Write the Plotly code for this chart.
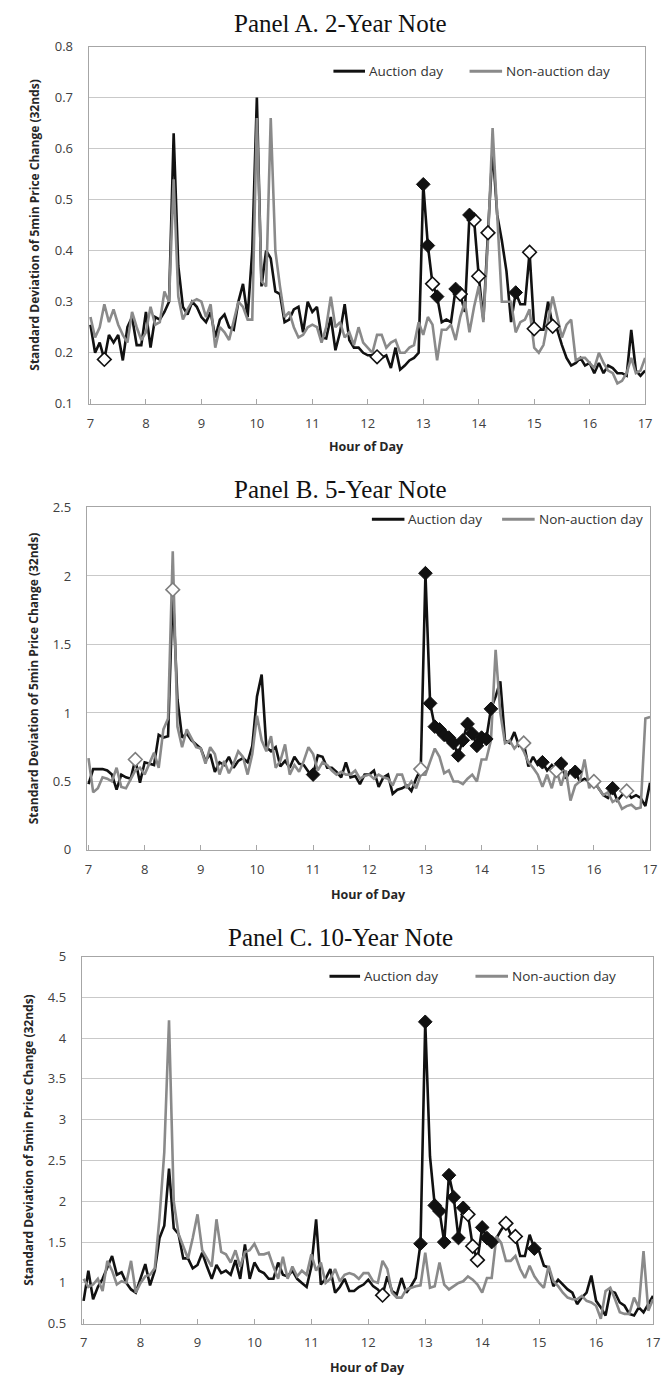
import numpy as np
import plotly.graph_objects as go

# ---- data: std. dev. of 5-minute price changes (32nds), 7:00-17:00 ----
hours = 7 + np.arange(121) / 12.0
hour_ticks = list(range(7, 18))
hour_labels = [str(h) for h in hour_ticks]

two_auction = (
    [0.255, 0.20, 0.22, 0.187, 0.235, 0.22, 0.235, 0.185, 0.25, 0.27, 0.215, 0.215,
     0.28, 0.21, 0.27, 0.265, 0.28, 0.30, 0.63,
     0.37, 0.29, 0.275, 0.30, 0.29, 0.27, 0.26, 0.28, 0.23, 0.265, 0.275, 0.25,
     0.245, 0.30, 0.335, 0.27, 0.40, 0.70,
     0.33, 0.40, 0.385, 0.32, 0.315, 0.26, 0.265, 0.285, 0.29, 0.24, 0.30, 0.28,
     0.29, 0.23, 0.228, 0.27, 0.205, 0.24, 0.295, 0.225, 0.21, 0.21, 0.20]
    + [0.195, 0.195, 0.192, 0.19, 0.195, 0.17, 0.21, 0.167, 0.175, 0.185, 0.19, 0.20]
    + [0.53, 0.41, 0.335, 0.31, 0.26, 0.265, 0.26, 0.325, 0.315, 0.28, 0.47, 0.46]
    + [0.35, 0.265, 0.435, 0.60, 0.47, 0.42, 0.36, 0.26, 0.318, 0.295, 0.295, 0.397]
    + [0.247, 0.245, 0.245, 0.30, 0.252, 0.245, 0.215, 0.19, 0.175, 0.18, 0.19, 0.175]
    + [0.18, 0.16, 0.18, 0.16, 0.175, 0.17, 0.16, 0.16, 0.155, 0.245, 0.165, 0.155, 0.165]
)
two_non = (
    [0.27, 0.23, 0.25, 0.295, 0.26, 0.285, 0.255, 0.235, 0.22, 0.28, 0.25, 0.225,
     0.24, 0.29, 0.255, 0.26, 0.32, 0.30, 0.54,
     0.31, 0.265, 0.285, 0.30, 0.305, 0.30, 0.27, 0.295, 0.21, 0.25, 0.24, 0.225,
     0.26, 0.30, 0.29, 0.265, 0.265, 0.66,
     0.34, 0.33, 0.66, 0.40, 0.33, 0.27, 0.28, 0.25, 0.23, 0.235, 0.25, 0.255,
     0.25, 0.22, 0.25, 0.31, 0.25, 0.26, 0.23, 0.24, 0.215, 0.25, 0.22]
    + [0.21, 0.20, 0.235, 0.235, 0.21, 0.22, 0.225, 0.20, 0.20, 0.21, 0.215, 0.26]
    + [0.235, 0.27, 0.255, 0.185, 0.245, 0.245, 0.255, 0.225, 0.27, 0.30, 0.24, 0.29]
    + [0.33, 0.26, 0.42, 0.64, 0.47, 0.30, 0.30, 0.30, 0.24, 0.26, 0.265, 0.285]
    + [0.21, 0.20, 0.215, 0.26, 0.31, 0.27, 0.23, 0.255, 0.265, 0.185, 0.19, 0.19]
    + [0.18, 0.17, 0.20, 0.18, 0.165, 0.16, 0.14, 0.145, 0.16, 0.19, 0.16, 0.165, 0.19]
)
two_sig_up = [72, 73, 75, 79, 82, 92]
two_sig_down = [3, 62, 74, 80, 83, 84, 86, 95, 96, 100]

five_auction = (
    [0.48, 0.59, 0.59, 0.59, 0.58, 0.55, 0.44, 0.55, 0.53, 0.52, 0.66, 0.49,
     0.64, 0.63, 0.62, 0.84, 0.82, 0.83, 1.90,
     1.10, 0.82, 0.85, 0.80, 0.77, 0.74, 0.65, 0.70, 0.57, 0.64, 0.62, 0.68,
     0.60, 0.65, 0.67, 0.64, 0.76, 1.12, 1.28,
     0.75, 0.72, 0.75, 0.61, 0.65, 0.60, 0.68, 0.63, 0.62, 0.57, 0.55, 0.69,
     0.68, 0.60, 0.60, 0.57, 0.53, 0.64, 0.53, 0.54, 0.48, 0.55]
    + [0.55, 0.58, 0.46, 0.53, 0.55, 0.41, 0.44, 0.45, 0.47, 0.43, 0.52, 0.59]
    + [2.02, 1.07, 0.90, 0.88, 0.84, 0.82, 0.78, 0.69, 0.80, 0.92, 0.85, 0.76]
    + [0.82, 0.81, 1.03, 1.12, 1.23, 0.80, 0.78, 0.86, 0.76, 0.78, 0.61, 0.68]
    + [0.62, 0.64, 0.58, 0.62, 0.58, 0.63, 0.52, 0.58, 0.57, 0.50, 0.52, 0.50]
    + [0.50, 0.45, 0.40, 0.38, 0.45, 0.36, 0.40, 0.43, 0.38, 0.40, 0.38, 0.32, 0.49]
)
five_non = (
    [0.67, 0.42, 0.45, 0.53, 0.52, 0.50, 0.60, 0.46, 0.45, 0.52, 0.58, 0.60,
     0.55, 0.63, 0.71, 0.60, 0.88, 0.96, 2.18,
     0.90, 0.75, 0.88, 0.82, 0.75, 0.74, 0.63, 0.75, 0.70, 0.55, 0.65, 0.56,
     0.63, 0.72, 0.68, 0.55, 0.70, 0.98,
     0.80, 0.72, 0.83, 0.60, 0.65, 0.77, 0.55, 0.62, 0.57, 0.65, 0.75, 0.70,
     0.58, 0.64, 0.62, 0.58, 0.55, 0.57, 0.55, 0.55, 0.58, 0.52, 0.54]
    + [0.55, 0.52, 0.55, 0.53, 0.52, 0.47, 0.55, 0.55, 0.45, 0.50, 0.45, 0.55]
    + [0.55, 0.65, 0.74, 0.68, 0.56, 0.58, 0.50, 0.50, 0.48, 0.52, 0.55, 0.50]
    + [0.66, 0.66, 0.80, 1.46, 1.00, 0.78, 0.80, 0.74, 0.78, 0.72, 0.64, 0.60]
    + [0.55, 0.46, 0.55, 0.45, 0.58, 0.47, 0.58, 0.36, 0.47, 0.50, 0.66, 0.45]
    + [0.52, 0.45, 0.40, 0.42, 0.35, 0.37, 0.30, 0.32, 0.33, 0.30, 0.31, 0.96, 0.97]
)
five_sig_up = [48] + list(range(72, 87)) + [97, 101, 104, 112]
five_sig_down = [10, 18, 71, 93, 100, 108, 115]

ten_auction = (
    [0.78, 1.15, 0.80, 0.95, 1.05, 1.18, 1.33, 1.10, 1.13, 1.00, 0.92, 0.88,
     1.05, 1.23, 0.97, 1.15, 1.55, 1.70, 2.40,
     1.67, 1.60, 1.30, 1.30, 1.18, 1.22, 1.37, 1.20, 1.05, 1.22, 1.12, 1.15,
     1.10, 1.28, 1.05, 1.47, 1.05, 1.25, 1.15, 1.12, 1.05, 1.05, 1.25, 1.10,
     1.08, 1.15, 1.05, 1.00, 0.95, 1.20, 1.78, 0.98, 1.05, 1.17, 0.88, 0.95,
     1.05, 0.90, 0.90, 0.95, 0.98]
    + [1.04, 0.96, 0.92, 0.85, 1.08, 0.90, 0.86, 1.06, 0.88, 0.96, 1.06, 1.48]
    + [4.20, 2.55, 1.95, 1.88, 1.50, 2.32, 2.05, 1.55, 1.92, 1.84, 1.45, 1.28]
    + [1.68, 1.55, 1.50, 1.55, 1.65, 1.73, 1.60, 1.57, 1.33, 1.33, 1.59, 1.42]
    + [1.39, 1.21, 1.19, 0.96, 1.04, 0.98, 0.92, 0.88, 0.74, 0.82, 0.88, 1.09]
    + [0.78, 0.70, 0.60, 0.90, 0.88, 0.76, 0.72, 0.62, 0.60, 0.70, 0.64, 0.74, 0.84]
)
ten_non = (
    [1.05, 0.95, 0.98, 1.05, 0.90, 1.27, 1.15, 0.98, 1.02, 1.00, 1.27, 0.88,
     1.00, 1.08, 1.10, 1.18, 1.80, 2.60, 4.22,
     2.00, 1.60, 1.45, 1.30, 1.55, 1.84, 1.40, 1.30, 1.20, 1.78, 1.38, 1.35,
     1.25, 1.40, 1.20, 1.38, 1.40, 1.48, 1.35, 1.35, 1.37, 1.20, 1.05, 1.32,
     1.05, 1.20, 1.08, 1.15, 1.10, 1.35, 1.15, 1.25, 1.00, 1.05, 1.17, 1.02,
     1.10, 1.12, 1.10, 1.05, 1.12]
    + [1.12, 1.02, 1.00, 1.27, 1.17, 0.88, 0.82, 0.82, 0.92, 0.94, 0.96, 0.97]
    + [1.37, 0.94, 0.96, 1.25, 0.98, 0.92, 0.96, 1.00, 1.02, 1.08, 1.04, 0.98]
    + [0.88, 1.06, 1.06, 1.57, 1.49, 1.27, 1.27, 1.33, 1.17, 1.06, 1.21, 1.08]
    + [1.00, 0.94, 1.21, 1.02, 0.96, 0.88, 0.82, 0.80, 0.80, 0.84, 0.78, 0.76]
    + [0.72, 0.56, 0.90, 0.94, 0.80, 0.64, 0.62, 0.62, 0.82, 0.70, 1.39, 0.66, 0.80]
)
ten_sig_up = [71, 72, 74, 75, 76, 77, 78, 79, 80, 84, 85, 86, 95]
ten_sig_down = [63, 81, 82, 83, 89, 91]

panel_titles = ["Panel A. 2-Year Note", "Panel B. 5-Year Note", "Panel C. 10-Year Note"]
y_ranges = [[0.1, 0.8], [0, 2.5], [0.5, 5]]
y_dticks = [0.1, 0.5, 0.5]
series_names = ["Auction day", "Non-auction day"]
y_title = "Standard Deviation of 5min Price Change (32nds)"
x_title = "Hour of Day"

# ---- page geometry (pixels on a 661 x 1386 page) ----
W, H = 661, 1386
BLACK, GREY = "#111111", "#8a8a8a"
AXIS_GREY, GRID_GREY, TEXT = "#a6a6a6", "#c9c9c9", "#404040"

panels = [
    dict(auc=two_auction, non=two_non, up=two_sig_up, down=two_sig_down,
         box=(88, 652, 38, 400), title_y=15, xt_y=443, yt_x=33, open_col=BLACK,
         leg=(336, 368, 370, 474, 507, 509, 63)),
    dict(auc=five_auction, non=five_non, up=five_sig_up, down=five_sig_down,
         box=(86, 657, 505, 852), title_y=487, xt_y=897, yt_x=32, open_col="#7f7f7f",
         leg=(375, 408, 410, 507, 540, 542, 517)),
    dict(auc=ten_auction, non=ten_non, up=ten_sig_up, down=ten_sig_down,
         box=(81, 660, 960, 1332), title_y=941, xt_y=1376, yt_x=26, open_col=BLACK,
         leg=(332, 363, 365, 480, 513, 515, 980)),
]


def px(x):
    return x / W


def py(y):
    return 1 - y / H


fig = go.Figure()
shapes, annotations = [], []

for k, p in enumerate(panels):
    n = "" if k == 0 else str(k + 1)
    xa, ya = "x" + n, "y" + n
    auc = np.array(p["auc"])
    non = np.array(p["non"])

    fig.add_trace(go.Scatter(x=hours, y=auc, mode="lines", name=series_names[0],
                             line=dict(color=BLACK, width=2.6), xaxis=xa, yaxis=ya,
                             showlegend=False))
    fig.add_trace(go.Scatter(x=hours, y=non, mode="lines", name=series_names[1],
                             line=dict(color=GREY, width=2.6), xaxis=xa, yaxis=ya,
                             showlegend=False))
    fig.add_trace(go.Scatter(x=hours[p["down"]], y=auc[p["down"]], mode="markers",
                             marker=dict(symbol="diamond", size=10.5, color="white",
                                         line=dict(color=p["open_col"], width=1.6)),
                             xaxis=xa, yaxis=ya, showlegend=False, hoverinfo="skip"))
    fig.add_trace(go.Scatter(x=hours[p["up"]], y=auc[p["up"]], mode="markers",
                             marker=dict(symbol="diamond", size=10.5, color=BLACK,
                                         line=dict(color=BLACK, width=1)),
                             xaxis=xa, yaxis=ya, showlegend=False, hoverinfo="skip"))

    x0, x1, y0, y1 = p["box"]
    fig.update_layout({
        "xaxis" + n: dict(domain=[px(x0), px(x1)], anchor=ya, range=[6.97, 17.0],
                          tickvals=hour_ticks, ticktext=hour_labels, ticks="inside",
                          ticklen=5, tickcolor=AXIS_GREY, showline=True,
                          linecolor=AXIS_GREY, linewidth=1.3, mirror=True,
                          showgrid=False, zeroline=False, ticklabelstandoff=7,
                          tickfont=dict(family="Open Sans", size=13, color=TEXT)),
        "yaxis" + n: dict(domain=[py(y1), py(y0)], anchor=xa, range=y_ranges[k],
                          dtick=y_dticks[k], tick0=0, showgrid=True,
                          gridcolor=GRID_GREY, gridwidth=1.2, showline=True,
                          linecolor=AXIS_GREY, linewidth=1.3, mirror=True,
                          zeroline=False, ticks="", ticklabelstandoff=12,
                          tickfont=dict(family="Open Sans", size=13, color=TEXT)),
    })

    annotations.append(dict(text=panel_titles[k], xref="paper", yref="paper",
                            x=px(343), y=py(p["title_y"]), xanchor="center",
                            yanchor="middle", showarrow=False,
                            font=dict(family="Liberation Serif", size=25, color="#111111")))
    annotations.append(dict(text="<b>" + x_title + "</b>", xref="paper", yref="paper",
                            x=px((x0 + x1) / 2), y=py(p["xt_y"]), xanchor="center",
                            yanchor="middle", showarrow=False,
                            font=dict(family="Open Sans", size=12.5, color="#262626")))
    annotations.append(dict(text="<b>" + y_title + "</b>", xref="paper", yref="paper",
                            x=px(p["yt_x"]), y=py((y0 + y1) / 2), xanchor="center",
                            yanchor="middle", textangle=-90, showarrow=False,
                            font=dict(family="Open Sans", size=12, color="#262626")))

    # legend: line swatch followed by its label, for each series
    bx0, bx1, btx, gx0, gx1, gtx, ly = p["leg"]
    for (s0, s1, tx, col, name) in [(bx0, bx1, btx, BLACK, series_names[0]),
                                    (gx0, gx1, gtx, GREY, series_names[1])]:
        shapes.append(dict(type="line", xref="paper", yref="paper",
                           x0=px(s0), x1=px(s1), y0=py(ly), y1=py(ly),
                           line=dict(color=col, width=3)))
        annotations.append(dict(text=name, xref="paper", yref="paper", x=px(tx),
                                y=py(ly), xanchor="left", yanchor="middle",
                                showarrow=False,
                                font=dict(family="Open Sans", size=13.5, color="#333333")))

fig.update_layout(width=W, height=H, margin=dict(l=0, r=0, t=0, b=0),
                  plot_bgcolor="white", paper_bgcolor="white",
                  shapes=shapes, annotations=annotations, showlegend=False)

fig.write_html("out.html")
